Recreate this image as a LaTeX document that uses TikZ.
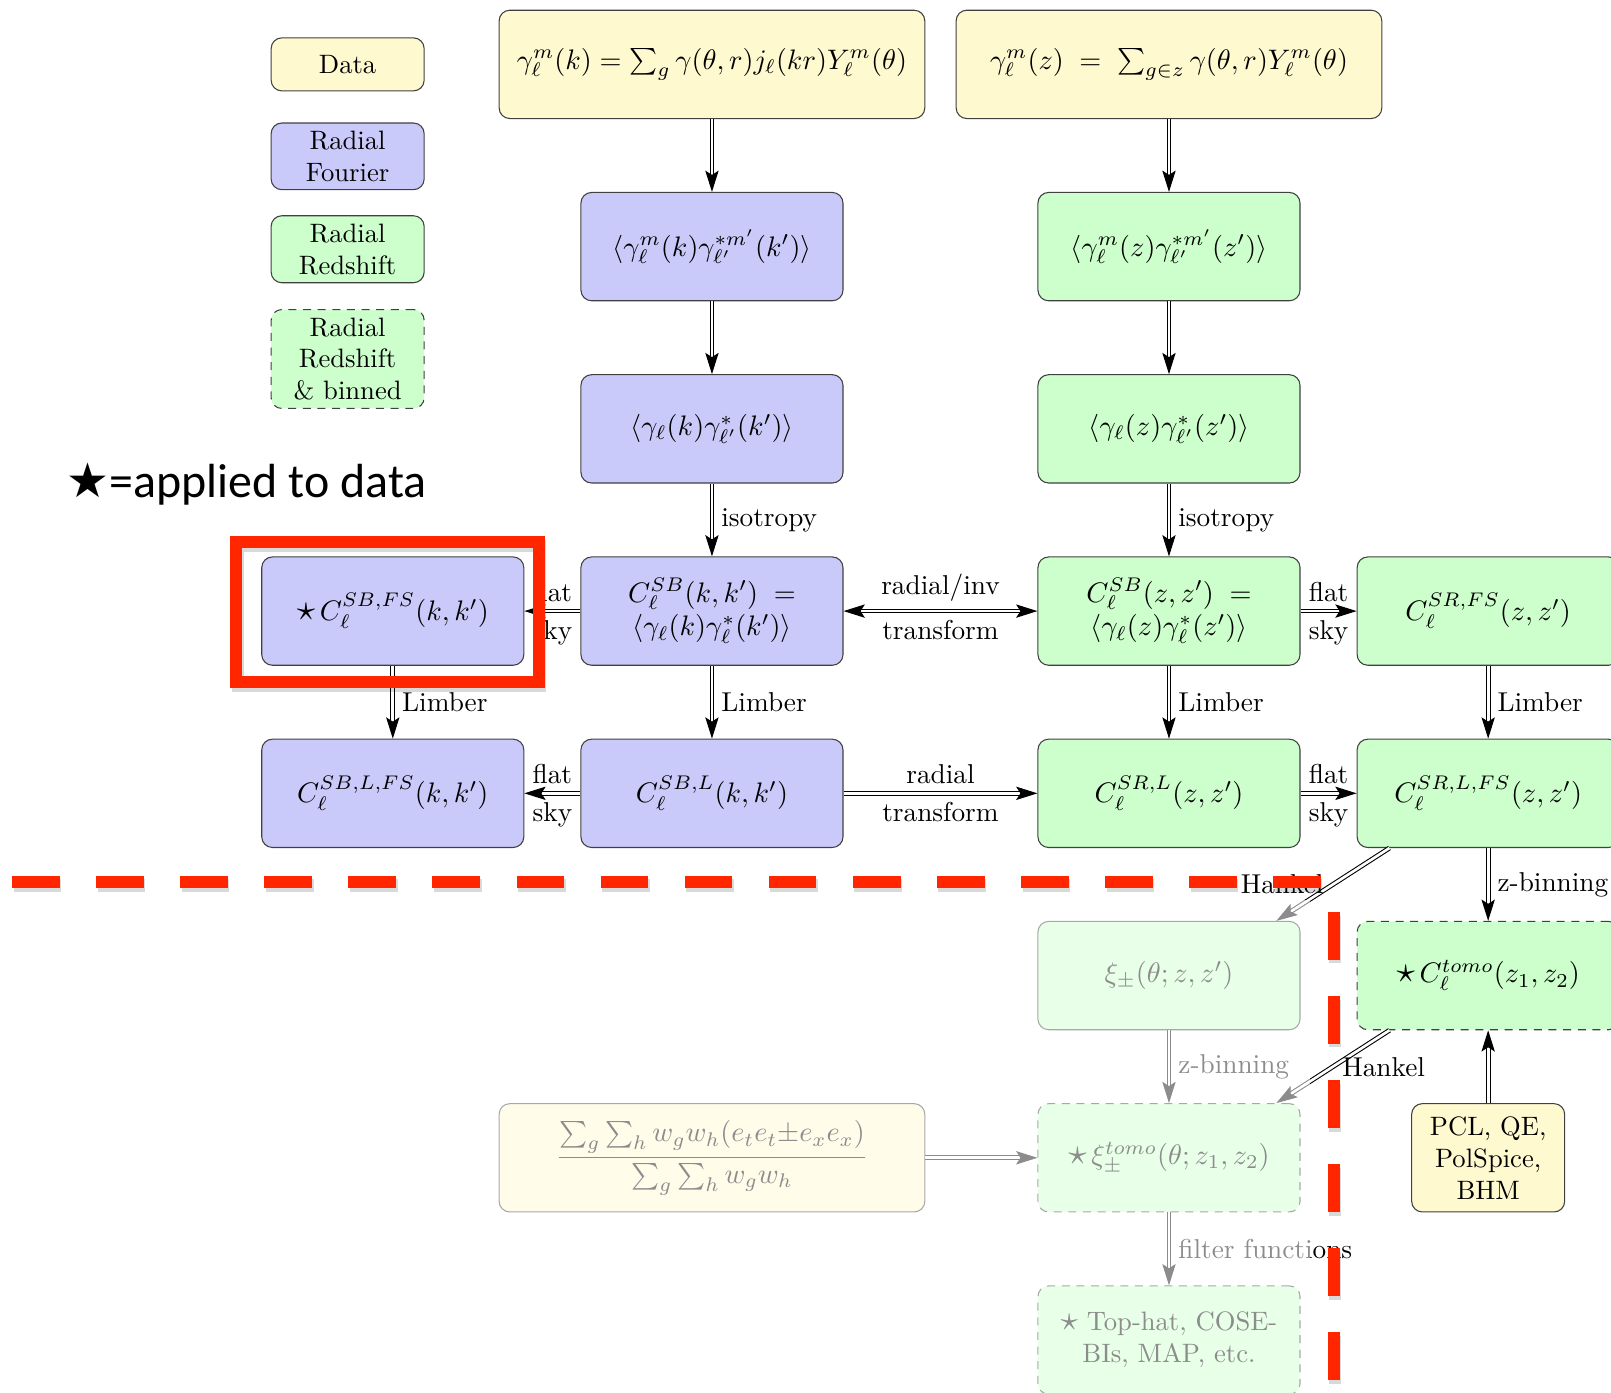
\documentclass[tikz,border=0pt]{standalone}
\usepackage{fix-cm}
\usepackage{fontspec}
\newfontfamily\notefont{Carlito}
\newfontfamily\symfont{DejaVu Sans}
\usetikzlibrary{arrows.meta,positioning,calc}

\definecolor{datcol}{RGB}{255,249,208}
\definecolor{fourcol}{RGB}{202,202,250}
\definecolor{zcol}{RGB}{204,255,204}
\definecolor{markcol}{RGB}{255,38,0}

\newcommand{\dstar}{\scalebox{1.3}{$\star$}}

\begin{document}
\begin{tikzpicture}[
  node distance=0.962cm and 0.74cm,
  >={Stealth[length=8pt, width=5pt, inset=1.6pt]},
  box/.style={draw=black!75, rounded corners=4pt, align=center, minimum width=3.46cm, minimum height=1.43cm, inner sep=3pt, font=\fontsize{10.6}{12.7}\selectfont},
  wbox/.style={box, minimum width=5.62cm},
  txt/.style={font=\normalsize},
  dat/.style={fill=datcol},
  four/.style={fill=fourcol},
  zred/.style={fill=zcol},
  binned/.style={fill=zcol, dash pattern=on 3pt off 2.5pt},
  leg/.style={draw=black!75, rounded corners=4pt, align=center, minimum width=2.02cm, minimum height=0.70cm, inner sep=3pt},
  lab/.style={font=\fontsize{10.25}{12.3}\selectfont},
  arr/.style={double, double distance=1pt, line width=0.4pt, ->},
  redmark/.style={markcol, line width=4.6pt},
  reddash/.style={redmark, dash pattern=on 0.63cm off 0.48cm},
  redshade/.style={black, opacity=0.15, line width=4.6pt, dash pattern=on 0.63cm off 0.48cm}
]
\clip (0,0) rectangle (21.27,-18.39);

% legend
\node[leg, dat] (lgdata) at (4.59,-0.85) {Data};
\node[leg, four, below=0.41cm of lgdata] (lgfour) {Radial\\Fourier};
\node[leg, zred, below=0.33cm of lgfour] (lgz) {Radial\\Redshift};
\node[leg, binned, below=0.34cm of lgz] (lgbin) {Radial\\Redshift\\\& binned};
\node[anchor=base east, inner sep=0pt, font=\notefont\fontsize{18}{21}\selectfont] (applied) at (5.64,-6.57) {{\symfont ★}=applied to data};

% boxes
\node[wbox, dat] (gamk) at (9.40,-0.85) {$\gamma_\ell^m(k)=\sum_g\gamma(\theta,r)j_\ell(kr)Y_\ell^m(\theta)$};
\node[wbox, dat, right=0.40cm of gamk] (gamz) {$\gamma_\ell^m(z)\;=\;\sum_{g\in z}\gamma(\theta,r)Y_\ell^m(\theta)$};
\node[box, four, below=of gamk] (covmk) {$\langle\gamma_\ell^m(k)\gamma_{\ell'}^{*m'}(k')\rangle$};
\node[box, zred, below=of gamz] (covmz) {$\langle\gamma_\ell^m(z)\gamma_{\ell'}^{*m'}(z')\rangle$};
\node[box, four, below=of covmk] (covk) {$\langle\gamma_\ell(k)\gamma_{\ell'}^*(k')\rangle$};
\node[box, zred, below=of covmz] (covz) {$\langle\gamma_\ell(z)\gamma_{\ell'}^*(z')\rangle$};
\node[box, four, below=of covk] (csbk) {$C_\ell^{SB}(k,k')\;=$\\$\langle\gamma_\ell(k)\gamma_\ell^*(k')\rangle$};
\node[box, zred, below=of covz] (csbz) {$C_\ell^{SB}(z,z')\;=$\\$\langle\gamma_\ell(z)\gamma_\ell^*(z')\rangle$};
\node[box, four, left=of csbk] (csbfs) {\dstar\,$C_\ell^{SB,FS}(k,k')$};
\node[box, zred, right=of csbz] (csrfs) {$C_\ell^{SR,FS}(z,z')$};
\node[box, four, below=of csbfs] (csblfs) {$C_\ell^{SB,L,FS}(k,k')$};
\node[box, four, below=of csbk] (csbl) {$C_\ell^{SB,L}(k,k')$};
\node[box, zred, below=of csbz] (csrl) {$C_\ell^{SR,L}(z,z')$};
\node[box, zred, below=of csrfs] (csrlfs) {$C_\ell^{SR,L,FS}(z,z')$};
\node[box, zred, below=of csrl] (xi) {$\xi_\pm(\theta;z,z')$};
\node[box, binned, below=of csrlfs] (ctomo) {\dstar\,$C_\ell^{tomo}(z_1,z_2)$};
\node[box, binned, below=of xi] (xitomo) {\dstar\,$\xi_\pm^{tomo}(\theta;z_1,z_2)$};
\node[wbox, dat, left=1.48cm of xitomo] (estim) {$\displaystyle\frac{\sum_g\sum_h w_gw_h(e_te_t{\pm}e_xe_x)}{\sum_g\sum_h w_gw_h}$};
\node[box, dat, txt, minimum width=2.02cm, below=of ctomo] (pcl) {PCL, QE,\\PolSpice,\\BHM};
\node[box, binned, txt, below=of xitomo] (filt) {\dstar\ Top-hat, COSE-\\BIs, MAP, etc.};

% arrows
\draw[arr] (gamk) -- (covmk);
\draw[arr] (gamz) -- (covmz);
\draw[arr] (covmk) -- (covk);
\draw[arr] (covmz) -- (covz);
\draw[arr] (covk) -- node[right, lab] {isotropy} (csbk);
\draw[arr] (covz) -- node[right, lab] {isotropy} (csbz);
\draw[arr] (csbk) -- node[above, lab] {flat} node[below, lab] {sky} (csbfs);
\draw[arr, <->] (csbk) -- node[above, lab] {radial/inv} node[below, lab] {transform} (csbz);
\draw[arr] (csbz) -- node[above, lab] {flat} node[below, lab] {sky} (csrfs);
\draw[arr] (csbfs) -- node[right, lab] {Limber} (csblfs);
\draw[arr] (csbk) -- node[right, lab] {Limber} (csbl);
\draw[arr] (csbz) -- node[right, lab] {Limber} (csrl);
\draw[arr] (csrfs) -- node[right, lab] {Limber} (csrlfs);
\draw[arr] (csbl) -- node[above, lab] {flat} node[below, lab] {sky} (csblfs);
\draw[arr] (csbl) -- node[above, lab] {radial} node[below, lab] {transform} (csrl);
\draw[arr] (csrl) -- node[above, lab] {flat} node[below, lab] {sky} (csrlfs);
\draw[arr] (csrlfs.-151) -- node[left, lab] {Hankel} (xi.27.5);
\draw[arr] (csrlfs) -- node[right, lab] {z-binning} (ctomo);
\draw[arr] (xi) -- node[right, lab] {z-binning} (xitomo);
\draw[arr] (ctomo.-151) -- node[right, lab] {Hankel} (xitomo.27.5);
\draw[arr] (pcl) -- (ctomo);
\draw[arr] (estim) -- (xitomo);
\draw[arr] (xitomo) -- node[right, lab] {filter functions} (filt);

% faded part
\fill[white, opacity=0.55] (0,-11.88) rectangle (17.29,-18.39);

% red marks
\draw[redmark, black, opacity=0.15] ($(csbfs.south west)+(-0.31,-0.26)$) rectangle ($(csbfs.north east)+(0.21,0.14)$);
\draw[redmark] ($(csbfs.south west)+(-0.33,-0.21)$) rectangle ($(csbfs.north east)+(0.19,0.19)$);
\draw[redshade] (0.18,-11.69) -- (17.47,-11.69);
\draw[redshade] (17.63,-12.09) -- (17.63,-18.39);
\draw[reddash] (0.16,-11.64) -- (17.45,-11.64);
\draw[reddash] (17.61,-12.04) -- (17.61,-18.39);
\end{tikzpicture}
\end{document}
